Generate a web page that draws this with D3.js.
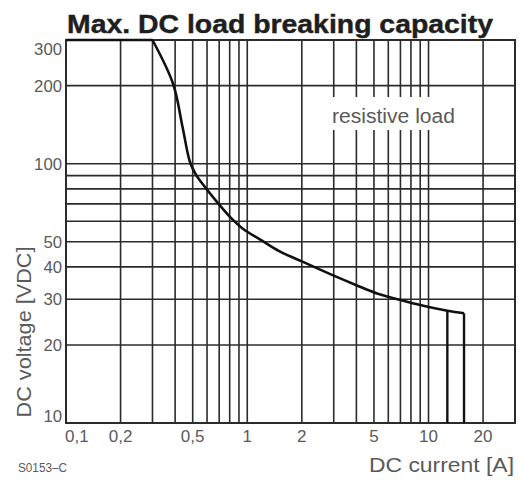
<!DOCTYPE html>
<html>
<head>
<meta charset="utf-8">
<script src="https://cdn.jsdelivr.net/npm/d3@7"></script>
<style>
  html, body { margin: 0; padding: 0; background: #fff; }
  svg { display: block; }
</style>
</head>
<body>
<svg id="chart" width="519" height="481"></svg>
<script>
// ---- data ----
const title = "Max. DC load breaking capacity";
const xAxisTitle = "DC current [A]";
const yAxisTitle = "DC voltage [VDC]";
const curveLabel = "resistive load";
const figureCode = "S0153–C";

const xDomain = [0.1, 30];
const yDomain = [10, 300];

const xTickValues = [0.1, 0.2, 0.5, 1, 2, 5, 10, 20];
const xTickLabels = ["0,1", "0,2", "0,5", "1", "2", "5", "10", "20"];
const xGridValues = [0.2, 0.3, 0.4, 0.5, 0.6, 0.7, 0.8, 0.9, 1, 2, 3, 4, 5, 6, 7, 8, 9, 10, 20];

const yTickValues = [10, 20, 30, 40, 50, 100, 200, 300];
const yTickLabels = ["10", "20", "30", "40", "50", "100", "200", "300"];
const yGridValues = [20, 30, 40, 50, 60, 70, 80, 90, 100, 200];

// flat top segment
const flatCurrent = [0.1, 0.3];
const flatVoltage = [300, 300];
// breaking-capacity curve
const curveCurrent = [0.3, 0.39, 0.44, 0.483, 0.52, 0.584, 0.689, 0.8, 0.95, 1.18, 1.5, 2.0, 3.0, 4.0, 5.2, 7.0, 9.0, 12.7, 15.7];
const curveVoltage = [300, 203, 138, 101.5, 91, 81.3, 70.5, 62.5, 56, 51, 46, 42, 37, 34, 31.6, 29.8, 28.5, 27.1, 26.5];
// vertical drops at the end of the curve
const dropCurrent = [12.7, 15.7];
const dropTopVoltage = [27.1, 26.5];

// ---- drawing ----
const svg = d3.select("#chart");
const L = 66, R = 515, T = 40, B = 423;
const x = d3.scaleLog().domain(xDomain).range([L, R]);
const y = d3.scaleLog().domain(yDomain).range([B, T]);

const font = "'Liberation Sans', Arial, Helvetica, sans-serif";
const gridColor = "#2b2b2b";
const textGray = "#5a5a5a";

// grid
svg.append("g").selectAll("line").data(xGridValues).join("line")
  .attr("x1", d => x(d)).attr("x2", d => x(d))
  .attr("y1", T).attr("y2", B)
  .attr("stroke", gridColor).attr("stroke-width", 1.6);
svg.append("g").selectAll("line").data(yGridValues).join("line")
  .attr("x1", L).attr("x2", R)
  .attr("y1", d => y(d)).attr("y2", d => y(d))
  .attr("stroke", gridColor).attr("stroke-width", 1.6);

// frame
svg.append("rect")
  .attr("x", L).attr("y", T).attr("width", R - L).attr("height", B - T)
  .attr("fill", "none").attr("stroke", gridColor).attr("stroke-width", 2);

// label box with white background
const lbl = svg.append("g");
lbl.append("rect")
  .attr("x", 328).attr("y", 97).attr("width", 129).attr("height", 33)
  .attr("fill", "#fff");
lbl.append("text")
  .attr("x", 332).attr("y", 122.5)
  .attr("font-family", font).attr("font-size", 20)
  .attr("fill", textGray)
  .attr("textLength", 123).attr("lengthAdjust", "spacingAndGlyphs")
  .text(curveLabel);

// curve
const flatData = flatCurrent.map((c, i) => [c, flatVoltage[i]]);
const curveData = curveCurrent.map((c, i) => [c, curveVoltage[i]]);
svg.append("path")
  .attr("d", d3.line().x(d => x(d[0])).y(d => y(d[1]))(flatData))
  .attr("fill", "none").attr("stroke", "#111").attr("stroke-width", 2.6);
svg.append("path")
  .attr("d", d3.line().x(d => x(d[0])).y(d => y(d[1])).curve(d3.curveCatmullRom.alpha(0.5))(curveData))
  .attr("fill", "none").attr("stroke", "#111").attr("stroke-width", 2.6)
  .attr("stroke-linejoin", "round");
svg.append("g").selectAll("line").data(dropCurrent).join("line")
  .attr("x1", d => x(d)).attr("x2", d => x(d))
  .attr("y1", (d, i) => y(dropTopVoltage[i])).attr("y2", y(yDomain[0]))
  .attr("stroke", "#111").attr("stroke-width", 2.4);

// y tick labels
svg.append("g").selectAll("text").data(yTickValues).join("text")
  .attr("x", 62)
  .attr("y", d => {
    let cy = y(d);
    if (d === yDomain[1]) cy = T + 9;
    if (d === yDomain[0]) cy = B - 7;
    return cy;
  })
  .attr("dy", "0.36em")
  .attr("text-anchor", "end")
  .attr("font-family", font).attr("font-size", 17)
  .attr("fill", textGray)
  .attr("textLength", (d, i) => yTickLabels[i].length * 9.3)
  .attr("lengthAdjust", "spacingAndGlyphs")
  .text((d, i) => yTickLabels[i]);

// x tick labels
svg.append("g").selectAll("text").data(xTickValues).join("text")
  .attr("x", d => d === xDomain[0] ? L - 1 : x(d))
  .attr("y", 442)
  .attr("text-anchor", d => d === xDomain[0] ? "start" : "middle")
  .attr("font-family", font).attr("font-size", 17)
  .attr("fill", textGray)
  .text((d, i) => xTickLabels[i]);

// title
svg.append("text")
  .attr("x", 67).attr("y", 33)
  .attr("font-family", font).attr("font-size", 25).attr("font-weight", "bold")
  .attr("fill", "#1e1e1e")
  .attr("stroke", "#1e1e1e").attr("stroke-width", 0.4)
  .attr("textLength", 426).attr("lengthAdjust", "spacingAndGlyphs")
  .text(title);

// axis titles
svg.append("text")
  .attr("x", 514).attr("y", 472)
  .attr("text-anchor", "end")
  .attr("font-family", font).attr("font-size", 21)
  .attr("fill", textGray)
  .attr("textLength", 145).attr("lengthAdjust", "spacingAndGlyphs")
  .text(xAxisTitle);

svg.append("text")
  .attr("transform", "translate(31,332) rotate(-90)")
  .attr("text-anchor", "middle")
  .attr("font-family", font).attr("font-size", 21)
  .attr("fill", textGray)
  .attr("textLength", 171).attr("lengthAdjust", "spacingAndGlyphs")
  .text(yAxisTitle);

// figure code
svg.append("text")
  .attr("x", 18).attr("y", 472)
  .attr("font-family", font).attr("font-size", 12)
  .attr("fill", textGray)
  .attr("textLength", 49).attr("lengthAdjust", "spacingAndGlyphs")
  .text(figureCode);
</script>
</body>
</html>
